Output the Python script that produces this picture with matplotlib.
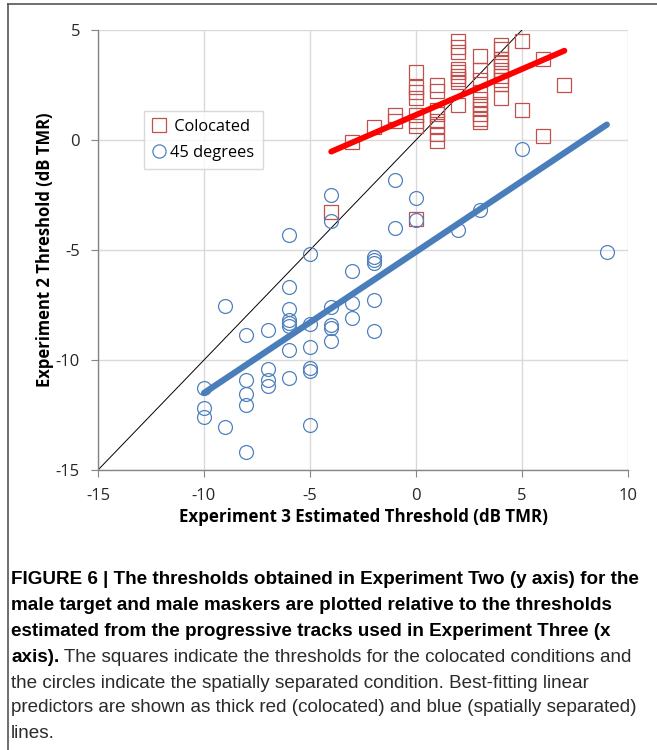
import matplotlib
matplotlib.use("Agg")
import matplotlib.pyplot as plt
from matplotlib.lines import Line2D
import numpy as np

plt.rcParams["axes.unicode_minus"] = False

# Experiment 3 estimated threshold (x) vs Experiment 2 threshold (y), dB TMR
colocated_x = [-4, 0,
               -3, -2, -1, -1,
               0, 0, 0, 0, 0, 0, 0,
               1, 1, 1, 1, 1, 1, 1, 1,
               2, 2, 2, 2, 2, 2, 2, 2, 2,
               3, 3, 3, 3, 3, 3, 3, 3, 3, 3,
               4, 4, 4, 4, 4, 4, 4, 4, 4, 4,
               5, 5, 6, 6, 7]
colocated_y = [-3.25, -3.6,
               -0.1, 0.6, 1.13, 0.85,
               3.09, 2.43, 2.17, 1.9, 1.14, 0.88, 0.62,
               2.5, 2.25, 1.38, 1.19, 0.88, 0.65, 0.27, -0.03,
               4.48, 4.23, 4.0, 3.24, 3.09, 2.93, 2.78, 2.63, 1.57,
               3.82, 3.17, 2.71, 2.17, 1.87, 1.64, 1.41, 1.19, 0.96, 0.83,
               4.33, 4.12, 3.69, 3.54, 3.36, 3.16, 2.93, 2.71, 2.55, 1.9,
               4.51, 1.35, 3.68, 0.2, 2.51]

separated_x = [-10, -10, -10,
               -9, -9,
               -8, -8, -8, -8, -8,
               -7, -7, -7, -7,
               -6, -6, -6, -6, -6, -6, -6, -6,
               -5, -5, -5, -5, -5, -5,
               -4, -4, -4, -4, -4, -4,
               -3, -3, -3,
               -2, -2, -2, -2, -2,
               -1, -1,
               0, 0,
               2, 3, 5, 9]
separated_y = [-11.25, -12.2, -12.6,
               -7.55, -13.05,
               -8.85, -10.9, -11.55, -12.05, -14.2,
               -8.65, -10.4, -10.9, -11.2,
               -4.3, -6.7, -7.67, -8.2, -8.3, -8.45, -9.55, -10.8,
               -5.2, -8.35, -9.4, -10.35, -10.5, -12.95,
               -2.5, -3.7, -7.6, -8.4, -8.55, -9.15,
               -5.95, -7.43, -8.1,
               -5.3, -5.45, -5.6, -7.25, -8.7,
               -1.8, -4.0,
               -2.65, -3.65,
               -4.1, -3.2, -0.4, -5.1]

# Best-fitting linear predictors: slope, intercept, x-range
colocated_fit = (0.417, 1.14)
colocated_fit_range = (-4, 7)
separated_fit = (0.642, -5.08)
separated_fit_range = (-10, 9)

x_ticks = [-15, -10, -5, 0, 5, 10]
y_ticks = [-15, -10, -5, 0, 5]

caption_lines = [
    [("FIGURE 6 | The thresholds obtained in Experiment Two (y axis) for the", "bold")],
    [("male target and male maskers are plotted relative to the thresholds", "bold")],
    [("estimated from the progressive tracks used in Experiment Three (x", "bold")],
    [("axis).", "bold"), (" The squares indicate the thresholds for the colocated conditions and", "normal")],
    [("the circles indicate the spatially separated condition. Best-fitting linear", "normal")],
    [("predictors are shown as thick red (colocated) and blue (spatially separated)", "normal")],
    [("lines.", "normal")],
]

W, H = 657, 750
fig = plt.figure(figsize=(W / 100, H / 100), dpi=100)
fig.patch.set_facecolor("white")

chart_font = ["Open Sans", "DejaVu Sans"]
ax = fig.add_axes([98 / W, 1 - 470 / H, 530 / W, 440 / H])
ax.set_xlim(-15, 10)
ax.set_ylim(-15, 5)
ax.set_xticks(x_ticks)
ax.set_yticks(y_ticks)
ax.grid(True, color="#d9d9d9", linewidth=1.0)
ax.set_axisbelow(True)
for s in ("top", "right"):
    ax.spines[s].set_visible(False)
for s in ("left", "bottom"):
    ax.spines[s].set_color("#868686")
    ax.spines[s].set_linewidth(1.0)
ax.tick_params(axis="both", direction="out", length=5, color="#868686",
               labelsize=12, labelcolor="#262626")
ax.tick_params(axis="y", pad=8)
ax.tick_params(axis="x", pad=8)
for lab in ax.get_xticklabels() + ax.get_yticklabels():
    lab.set_family(chart_font)

# identity line
ax.plot([-15, 5], [-15, 5], color="black", linewidth=0.7, zorder=2)

ax.plot(colocated_x, colocated_y, linestyle="none", marker="s", markersize=9.5,
        markerfacecolor="none", markeredgecolor="#c0504d", markeredgewidth=0.9,
        label="Colocated", zorder=3)
ax.plot(separated_x, separated_y, linestyle="none", marker="o", markersize=10,
        markerfacecolor="none", markeredgecolor="#4f81bd", markeredgewidth=0.9,
        label="45 degrees", zorder=3)

xs = np.array(colocated_fit_range)
ax.plot(xs, colocated_fit[0] * xs + colocated_fit[1], color="#ff0000",
        linewidth=4.2, solid_capstyle="round", zorder=4)
xs = np.array(separated_fit_range)
ax.plot(xs, separated_fit[0] * xs + separated_fit[1], color="#4a7ebb",
        linewidth=4.5, solid_capstyle="round", zorder=4)

ax.set_xlabel("Experiment 3 Estimated Threshold (dB TMR)", fontsize=12.2,
              fontweight="bold", family=chart_font, labelpad=3)
ax.set_ylabel("Experiment 2 Threshold (dB TMR)", fontsize=12,
              fontweight="bold", family=chart_font, labelpad=1)

handles = [
    Line2D([], [], linestyle="none", marker="s", markersize=9.5,
           markerfacecolor="none", markeredgecolor="#c0504d", markeredgewidth=0.9),
    Line2D([], [], linestyle="none", marker="o", markersize=9.5,
           markerfacecolor="none", markeredgecolor="#4f81bd", markeredgewidth=0.9),
]
leg = fig.legend(handles, [" Colocated", "45 degrees"], loc="upper left",
                 bbox_to_anchor=(144 / W, 1 - 111 / H), borderaxespad=0,
                 frameon=True, fancybox=False, edgecolor="#d0d0d0",
                 prop={"family": chart_font, "size": 11.8}, handlelength=0.8,
                 handletextpad=0.3, borderpad=0.5, labelspacing=0.6)
leg.get_frame().set_linewidth(1.0)

# figure frame (top and left edges)
fig.add_artist(Line2D([8 / W, 1], [1 - 4 / H, 1 - 4 / H], color="#555555",
                      linewidth=1.2, transform=fig.transFigure))
fig.add_artist(Line2D([8 / W, 8 / W], [0, 1 - 4 / H], color="#555555",
                      linewidth=1.2, transform=fig.transFigure))

# caption: one font size chosen so the widest line spans the text column
cap_font = ["Liberation Sans", "DejaVu Sans"]
renderer = fig.canvas.get_renderer()
probe_size = 14
widest = 0
for parts in caption_lines:
    w = 0
    for txt, weight in parts:
        p = fig.text(0, 0, txt, fontsize=probe_size, fontweight=weight, family=cap_font)
        w += p.get_window_extent(renderer).width
        p.remove()
    widest = max(widest, w)
cap_size = probe_size * 634 / widest

x0 = 11
line_y = [579, 605, 631, 657, 683, 708, 734]
for parts, yc in zip(caption_lines, line_y):
    x = x0
    for txt, weight in parts:
        t = fig.text(x / W, 1 - yc / H, txt, fontsize=cap_size, fontweight=weight,
                     family=cap_font, va="center", ha="left",
                     color="black" if weight == "bold" else "#2b2b2b")
        x += t.get_window_extent(renderer).width

fig.savefig("out.png", dpi=100, facecolor="white")
